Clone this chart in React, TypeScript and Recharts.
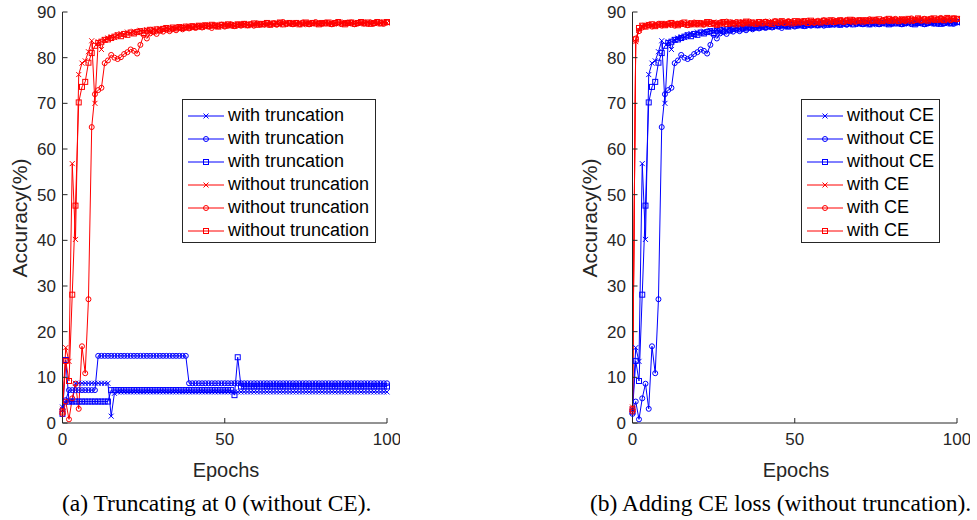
import React from 'react';
import { LineChart, Line, XAxis, YAxis } from 'recharts';

const epochs = Array.from({ length: 101 }, (_, i) => i);
const yTicks = [0, 10, 20, 30, 40, 50, 60, 70, 80, 90];
const xTicks = [0, 50, 100];

// without truncation / without CE (same runs in both panels)
const noTruncX = [
  3.0, 16.5, 13.5, 56.8, 40.2, 76.3, 78.8, 79.3, 81.3, 83.7,
  70.0, 83.5, 81.8, 83.9, 84.3, 84.6, 84.4, 85.0, 85.3, 85.1,
  85.6, 85.4, 85.8, 85.5, 86.0, 85.9, 86.1, 85.7, 86.2, 86.0,
  86.4, 86.2, 86.5, 86.3, 86.6, 86.4, 86.8, 86.5, 86.7, 86.9,
  86.6, 86.9, 87.0, 86.7, 87.1, 86.9, 87.0, 87.2, 86.8, 87.1,
  87.3, 87.0, 87.2, 86.9, 87.3, 87.1, 87.4, 87.2, 87.0, 87.3,
  87.5, 87.2, 87.4, 87.1, 87.5, 87.3, 87.6, 87.2, 87.4, 87.7,
  87.3, 87.5, 87.4, 87.6, 87.2, 87.5, 87.7, 87.4, 87.6, 87.3,
  87.5, 87.7, 87.4, 87.6, 87.5, 87.3, 87.6, 87.8, 87.4, 87.6,
  87.5, 87.7, 87.4, 87.6, 87.8, 87.5, 87.7, 87.4, 87.6, 87.8,
  87.6,
];
const noTruncO = [
  2.0, 4.7, 0.8, 5.4, 8.6, 3.1, 16.8, 10.9, 27.1, 64.8,
  72.0, 72.9, 73.4, 78.8, 79.4, 80.6, 80.0, 79.7, 80.1, 80.8,
  81.2, 81.8, 81.5, 80.9, 82.8, 85.0, 84.2, 85.3, 85.6, 85.2,
  85.9, 85.7, 86.1, 85.8, 86.3, 86.0, 86.5, 86.2, 86.6, 86.4,
  86.7, 86.5, 86.9, 86.6, 87.0, 86.8, 86.5, 87.1, 86.9, 87.2,
  86.8, 87.0, 87.3, 86.9, 87.2, 87.0, 87.4, 87.1, 87.3, 87.0,
  87.5, 87.2, 87.4, 87.6, 87.3, 87.5, 87.2, 87.6, 87.8, 87.4,
  87.5, 87.3, 87.6, 87.4, 87.7, 87.5, 87.3, 87.6, 87.8, 87.5,
  87.4, 87.7, 87.5, 87.3, 87.6, 87.8, 87.4, 87.6, 87.5, 87.7,
  87.3, 87.6, 87.8, 87.5, 87.4, 87.7, 87.5, 87.8, 87.6, 87.4,
  87.7,
];
const noTruncS = [
  2.5, 13.6, 9.2, 28.1, 47.6, 70.2, 73.6, 74.7, 78.9, 81.0,
  82.6, 83.2, 83.5, 83.9, 84.0, 84.3, 84.6, 84.9, 84.7, 85.2,
  85.0, 85.5, 85.3, 85.6, 85.8, 85.4, 85.9, 86.1, 85.8, 86.2,
  86.0, 86.3, 86.5, 86.2, 86.6, 86.4, 86.7, 86.5, 86.8, 86.6,
  86.9, 86.7, 87.0, 86.8, 87.1, 86.9, 87.2, 87.0, 86.8, 87.2,
  87.0, 87.3, 87.1, 87.0, 87.3, 87.2, 87.4, 87.1, 87.3, 87.5,
  87.2, 87.4, 87.3, 87.6, 87.2, 87.5, 87.4, 87.7, 87.3, 87.5,
  87.6, 87.4, 87.6, 87.3, 87.5, 87.7, 87.4, 87.6, 87.5, 87.3,
  87.6, 87.5, 87.7, 87.4, 87.6, 87.8, 87.5, 87.3, 87.6, 87.7,
  87.4, 87.6, 87.8, 87.5, 87.7, 87.4, 87.6, 87.8, 87.5, 87.7,
  87.8,
];

// with truncation (left panel, blue)
const truncX = [
  3.5, 4.5, 4.7, 4.7, 8.7, 8.7, 8.7, 8.7, 8.7, 8.7,
  8.7, 8.7, 8.7, 8.7, 8.7, 1.5, 6.5, 6.8, 6.8, 6.8,
  6.8, 6.8, 6.8, 6.8, 6.8, 6.8, 6.8, 6.8, 6.8, 6.8,
  6.8, 6.8, 6.8, 6.8, 6.8, 6.8, 6.8, 6.8, 6.8, 6.8,
  6.8, 6.8, 6.8, 6.8, 6.8, 6.8, 6.8, 6.8, 6.8, 6.8,
  6.8, 6.8, 6.8, 6.8, 6.8, 6.8, 6.8, 6.8, 6.8, 6.8,
  6.8, 6.8, 6.8, 6.8, 6.8, 6.8, 6.8, 6.8, 6.8, 6.8,
  6.8, 6.8, 6.8, 6.8, 6.8, 6.8, 6.8, 6.8, 6.8, 6.8,
  6.8, 6.8, 6.8, 6.8, 6.8, 6.8, 6.8, 6.8, 6.8, 6.8,
  6.8, 6.8, 6.8, 6.8, 6.8, 6.8, 6.8, 6.8, 6.8, 6.8,
  6.8,
];
const truncO = [
  3.0, 5.0, 7.2, 7.2, 7.2, 7.2, 7.2, 7.2, 7.2, 7.2,
  7.2, 14.7, 14.7, 14.7, 14.7, 14.7, 14.7, 14.7, 14.7, 14.7,
  14.7, 14.7, 14.7, 14.7, 14.7, 14.7, 14.7, 14.7, 14.7, 14.7,
  14.7, 14.7, 14.7, 14.7, 14.7, 14.7, 14.7, 14.7, 14.7, 8.7,
  8.7, 8.7, 8.7, 8.7, 8.7, 8.7, 8.7, 8.7, 8.7, 8.7,
  8.7, 8.7, 8.7, 8.7, 8.7, 8.7, 8.7, 8.7, 8.7, 8.7,
  8.7, 8.7, 8.7, 8.7, 8.7, 8.7, 8.7, 8.7, 8.7, 8.7,
  8.7, 8.7, 8.7, 8.7, 8.7, 8.7, 8.7, 8.7, 8.7, 8.7,
  8.7, 8.7, 8.7, 8.7, 8.7, 8.7, 8.7, 8.7, 8.7, 8.7,
  8.7, 8.7, 8.7, 8.7, 8.7, 8.7, 8.7, 8.7, 8.7, 8.7,
  8.7,
];
const truncS = [
  2.0, 13.8, 4.7, 4.7, 4.7, 4.7, 4.7, 4.7, 4.7, 4.7,
  4.7, 4.7, 4.7, 4.7, 4.7, 7.2, 7.2, 7.2, 7.2, 7.2,
  7.2, 7.2, 7.2, 7.2, 7.2, 7.2, 7.2, 7.2, 7.2, 7.2,
  7.2, 7.2, 7.2, 7.2, 7.2, 7.2, 7.2, 7.2, 7.2, 7.2,
  7.2, 7.2, 7.2, 7.2, 7.2, 7.2, 7.2, 7.2, 7.2, 7.2,
  7.2, 7.2, 7.2, 6.1, 14.4, 8.0, 8.0, 8.0, 8.0, 8.0,
  8.0, 8.0, 8.0, 8.0, 8.0, 8.0, 8.0, 8.0, 8.0, 8.0,
  8.0, 8.0, 8.0, 8.0, 8.0, 8.0, 8.0, 8.0, 8.0, 8.0,
  8.0, 8.0, 8.0, 8.0, 8.0, 8.0, 8.0, 8.0, 8.0, 8.0,
  8.0, 8.0, 8.0, 8.0, 8.0, 8.0, 8.0, 8.0, 8.0, 8.0,
  8.0,
];

// with CE (right panel, red)
const ceX = [
  3.5, 83.5, 86.0, 86.9, 87.1, 87.3, 87.0, 87.4, 87.2, 87.5,
  87.3, 87.1, 87.4, 87.6, 87.2, 87.5, 87.3, 87.7, 87.4, 87.2,
  87.6, 87.4, 87.7, 87.3, 87.5, 87.8, 87.4, 87.6, 87.3, 87.7,
  87.5, 87.8, 87.4, 87.6, 87.9, 87.5, 87.7, 87.4, 87.8, 87.6,
  87.9, 87.5, 87.7, 88.0, 87.6, 87.8, 87.5, 87.9, 87.7, 88.0,
  87.6, 87.8, 88.1, 87.7, 87.9, 87.6, 88.0, 87.8, 88.2, 87.7,
  88.0, 87.9, 88.1, 87.8, 88.0, 88.3, 87.9, 88.1, 87.8, 88.2,
  88.0, 88.3, 87.9, 88.1, 88.4, 88.0, 88.2, 87.9, 88.3, 88.1,
  88.4, 88.0, 88.2, 88.5, 88.1, 88.3, 88.0, 88.4, 88.2, 88.6,
  88.1, 88.3, 88.5, 88.2, 88.4, 88.1, 88.6, 88.3, 88.5, 88.2,
  88.4,
];
const ceO = [
  2.5, 84.2, 85.8, 86.6, 86.9, 87.2, 86.8, 87.1, 87.4, 87.0,
  87.3, 87.5, 87.2, 87.0, 87.4, 87.6, 87.3, 87.1, 87.5, 87.7,
  87.3, 87.6, 87.2, 87.5, 87.8, 87.4, 87.3, 87.7, 87.5, 87.9,
  87.4, 87.6, 87.8, 87.5, 87.3, 87.7, 87.9, 87.6, 87.4, 87.8,
  87.6, 87.9, 87.5, 87.7, 88.0, 87.6, 87.8, 87.5, 88.0, 87.8,
  87.6, 88.0, 87.7, 87.9, 88.1, 87.8, 87.6, 88.0, 87.9, 88.2,
  87.8, 88.0, 88.2, 87.9, 88.1, 87.8, 88.2, 88.0, 88.3, 87.9,
  88.1, 88.2, 88.0, 88.4, 88.1, 88.3, 87.9, 88.2, 88.4, 88.0,
  88.3, 88.5, 88.1, 88.3, 88.0, 88.4, 88.6, 88.2, 88.4, 88.1,
  88.5, 88.3, 88.6, 88.2, 88.4, 88.7, 88.3, 88.5, 88.2, 88.6,
  88.4,
];
const ceS = [
  3.0, 84.0, 86.5, 87.0, 86.8, 87.1, 87.3, 86.9, 87.2, 87.4,
  87.1, 87.3, 87.6, 87.3, 87.1, 87.4, 87.7, 87.2, 87.5, 87.3,
  87.6, 87.3, 87.5, 87.8, 87.4, 87.6, 87.2, 87.5, 87.8, 87.4,
  87.7, 87.5, 87.3, 87.7, 87.6, 87.9, 87.5, 87.7, 87.4, 87.8,
  87.5, 87.8, 87.6, 87.4, 87.9, 87.7, 88.0, 87.6, 87.8, 87.5,
  88.0, 87.7, 87.9, 88.0, 87.6, 88.1, 87.8, 87.9, 87.7, 88.1,
  87.9, 88.2, 87.8, 88.0, 88.2, 87.9, 88.1, 88.3, 87.9, 88.1,
  88.2, 87.9, 88.2, 88.0, 88.3, 88.1, 88.4, 88.0, 88.2, 88.5,
  88.1, 88.3, 88.0, 88.4, 88.2, 88.5, 88.1, 88.3, 88.6, 88.2,
  88.4, 88.1, 88.4, 88.6, 88.3, 88.5, 88.2, 88.7, 88.4, 88.6,
  88.5,
];

const BLUE = '#0000ff';
const RED = '#ff0000';
const AXIS = '#262626';
const SANS = '"Liberation Sans", Arial, Helvetica, sans-serif';

type Shape = 'x' | 'o' | 's';
type Series = { key: string; values: number[]; color: string; shape: Shape; name: string };

const Marker = ({ cx, cy, shape, color }: { cx: number; cy: number; shape: Shape; color: string }) => {
  const s = 2.5;
  if (shape === 'x') {
    return (
      <g>
        <line x1={cx - s} y1={cy - s} x2={cx + s} y2={cy + s} stroke={color} strokeWidth={1} />
        <line x1={cx - s} y1={cy + s} x2={cx + s} y2={cy - s} stroke={color} strokeWidth={1} />
      </g>
    );
  }
  if (shape === 'o') return <circle cx={cx} cy={cy} r={s} fill="none" stroke={color} strokeWidth={1} />;
  return <rect x={cx - s} y={cy - s} width={2 * s} height={2 * s} fill="none" stroke={color} strokeWidth={1} />;
};

const dotFor = (shape: Shape, color: string) => (p: any) => {
  if (p.cx == null || p.cy == null) return <g key={`d-${p.index}`} />;
  return (
    <g key={`d-${p.index}`}>
      <Marker cx={p.cx} cy={p.cy} shape={shape} color={color} />
    </g>
  );
};

const Legend = ({ series, left, top, width }: { series: Series[]; left: number; top: number; width: number }) => (
  <div
    style={{
      position: 'absolute',
      left,
      top,
      width,
      height: 144,
      border: `1px solid ${AXIS}`,
      background: '#fff',
      boxSizing: 'border-box',
      fontFamily: SANS,
      fontSize: 18,
      color: '#000',
    }}
  >
    {series.map((s, i) => (
      <div key={s.key} style={{ position: 'absolute', left: 5, top: 4 + i * 23, height: 23, display: 'flex', alignItems: 'center', whiteSpace: 'nowrap' }}>
        <svg width={36} height={10} style={{ marginRight: 4 }}>
          <line x1={0} y1={5} x2={36} y2={5} stroke={s.color} strokeWidth={1} />
          <Marker cx={18} cy={5} shape={s.shape} color={s.color} />
        </svg>
        <span>{s.name}</span>
      </div>
    ))}
  </div>
);

const Panel = ({ left, series, legendLeft, legendWidth, caption, captionLeft }: {
  left: number; series: Series[]; legendLeft: number; legendWidth: number; caption: string; captionLeft: number;
}) => {
  const data = epochs.map((e, i) => {
    const row: Record<string, number> = { e };
    series.forEach((s) => { row[s.key] = s.values[i]; });
    return row;
  });
  const tickStyle = { fill: AXIS, fontSize: 17, fontFamily: SANS };
  return (
    <>
      <div style={{ position: 'absolute', left, top: 0 }}>
        <LineChart width={400} height={460} data={data} margin={{ top: 12, right: 13, left: 32.5, bottom: 12 }}>
          <XAxis
            dataKey="e" type="number" domain={[0, 100]} ticks={xTicks} height={25}
            tickSize={-5} tickMargin={15} tick={tickStyle}
            stroke={AXIS} axisLine={{ stroke: AXIS }} tickLine={{ stroke: AXIS }}
          />
          <XAxis
            xAxisId="top" orientation="top" dataKey="e" type="number" domain={[0, 100]} ticks={xTicks} height={0}
            tickSize={-5} tick={false} axisLine={{ stroke: AXIS }} tickLine={{ stroke: AXIS }}
          />
          <YAxis
            type="number" domain={[0, 90]} ticks={yTicks} width={30}
            tickSize={-5} tickMargin={11.5} tick={tickStyle}
            axisLine={{ stroke: AXIS }} tickLine={{ stroke: AXIS }}
          />
          <YAxis
            yAxisId="right" orientation="right" type="number" domain={[0, 90]} ticks={yTicks} width={0}
            tickSize={-5} tick={false} axisLine={{ stroke: AXIS }} tickLine={{ stroke: AXIS }}
          />
          {series.map((s) => (
            <Line
              key={s.key} dataKey={s.key} stroke={s.color} strokeWidth={1}
              dot={dotFor(s.shape, s.color)} activeDot={false} isAnimationActive={false}
            />
          ))}
        </LineChart>
      </div>
      <div style={{ position: 'absolute', left: left + 20 - 80, top: 218 - 12, width: 160, textAlign: 'center', transform: 'rotate(-90deg)', fontFamily: SANS, fontSize: 21, color: AXIS }}>
        Accuracy(%)
      </div>
      <div style={{ position: 'absolute', left: left + 156, top: 459, width: 140, textAlign: 'center', fontFamily: SANS, fontSize: 20, color: AXIS }}>
        Epochs
      </div>
      <Legend series={series} left={legendLeft} top={99} width={legendWidth} />
      <div style={{ position: 'absolute', left: captionLeft, top: 490, whiteSpace: 'nowrap', fontFamily: '"Liberation Serif", "Times New Roman", serif', fontSize: 23.5, color: '#000' }}>
        {caption}
      </div>
    </>
  );
};

const leftSeries: Series[] = [
  { key: 'tx', values: truncX, color: BLUE, shape: 'x', name: 'with truncation' },
  { key: 'to', values: truncO, color: BLUE, shape: 'o', name: 'with truncation' },
  { key: 'ts', values: truncS, color: BLUE, shape: 's', name: 'with truncation' },
  { key: 'nx', values: noTruncX, color: RED, shape: 'x', name: 'without truncation' },
  { key: 'no', values: noTruncO, color: RED, shape: 'o', name: 'without truncation' },
  { key: 'ns', values: noTruncS, color: RED, shape: 's', name: 'without truncation' },
];

const rightSeries: Series[] = [
  { key: 'nx', values: noTruncX, color: BLUE, shape: 'x', name: 'without CE' },
  { key: 'no', values: noTruncO, color: BLUE, shape: 'o', name: 'without CE' },
  { key: 'ns', values: noTruncS, color: BLUE, shape: 's', name: 'without CE' },
  { key: 'cx', values: ceX, color: RED, shape: 'x', name: 'with CE' },
  { key: 'co', values: ceO, color: RED, shape: 'o', name: 'with CE' },
  { key: 'cs', values: ceS, color: RED, shape: 's', name: 'with CE' },
];

export default function App() {
  return (
    <div style={{ position: 'absolute', left: 0, top: 0, width: 977, height: 520, background: '#fff', overflow: 'hidden' }}>
      <Panel left={0} series={leftSeries} legendLeft={182} legendWidth={194} caption="(a) Truncating at 0 (without CE)." captionLeft={62} />
      <Panel left={570} series={rightSeries} legendLeft={801} legendWidth={139} caption="(b) Adding CE loss (without truncation)." captionLeft={590} />
    </div>
  );
}
